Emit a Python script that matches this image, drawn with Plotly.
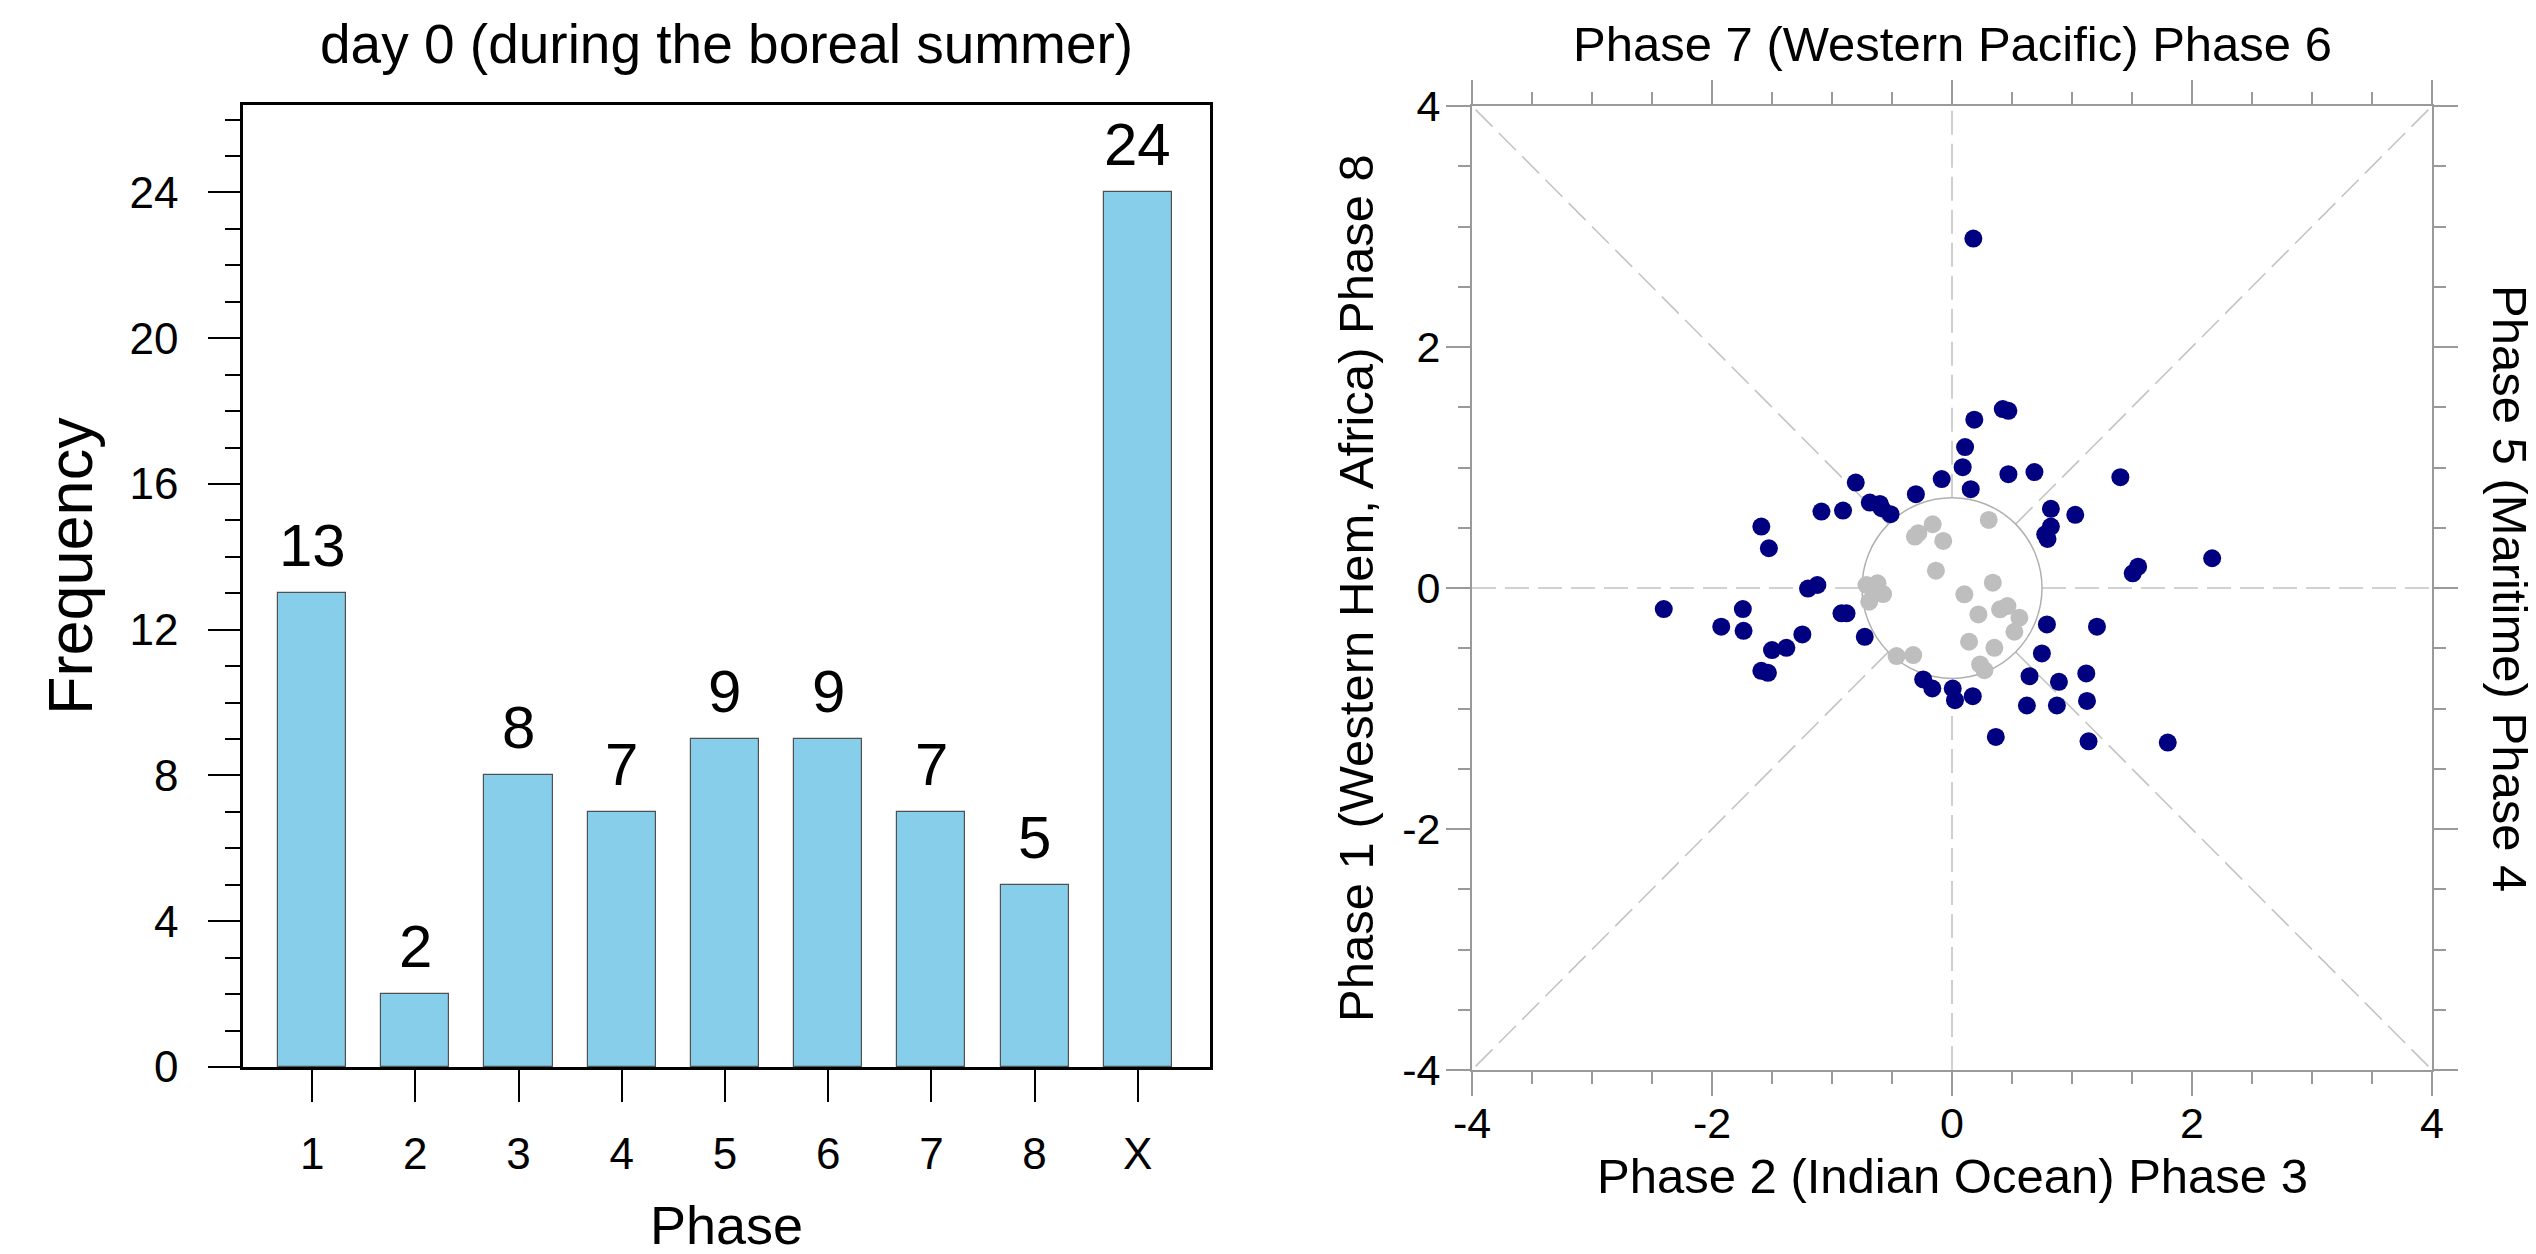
import math
import plotly.graph_objects as go

# ---- data -------------------------------------------------------------
phase_labels = ["1", "2", "3", "4", "5", "6", "7", "8", "X"]
phase_counts = [13, 2, 8, 7, 9, 9, 7, 5, 24]
freq_ticks = [0, 4, 8, 12, 16, 20, 24]

# RMM1 / RMM2 of days with a strong MJO (amplitude outside the circle)
strong_rmm1 = [0.178, 0.423, 0.470, 0.186, 0.109, 0.089, -0.086, 0.156, 0.470, 0.687,
               1.403, 0.824, 0.824, 0.777, 0.796, 1.027, 1.551, 1.506, -0.301, -0.802,
               -0.685, -0.601, -0.587, -0.512, -1.088, -0.908, -1.589, -1.526, -1.200, -1.122,
               -2.402, -1.743, -1.923, -1.737, -1.247, -1.500, -1.380, -1.589, -1.534, -0.921,
               -0.879, -0.727, -0.240, -0.164, 2.168, 0.791, 1.208, 0.749, 0.646, 0.891,
               1.119, 0.624, 0.874, 1.125, 0.365, 1.138, 1.798, 0.006, 0.025, 0.173]
strong_rmm2 = [2.900, 1.485, 1.470, 1.397, 1.170, 1.003, 0.904, 0.820, 0.945, 0.962,
               0.920, 0.657, 0.510, 0.446, 0.407, 0.607, 0.177, 0.122, 0.779, 0.875,
               0.709, 0.698, 0.662, 0.613, 0.634, 0.643, 0.510, 0.330, -0.005, 0.025,
               -0.175, -0.175, -0.321, -0.355, -0.385, -0.515, -0.496, -0.687, -0.704, -0.210,
               -0.210, -0.405, -0.759, -0.834, 0.247, -0.302, -0.321, -0.543, -0.732, -0.779,
               -0.709, -0.975, -0.975, -0.937, -1.236, -1.272, -1.283, -0.834, -0.931, -0.898]

# RMM1 / RMM2 of weak-MJO days
weak_rmm1 = [0.306, -0.161, -0.281, -0.309, -0.073, -0.134, -0.713, -0.621, -0.574, -0.690,
             -0.650, -0.462, -0.323, 0.340, 0.103, 0.220, 0.401, 0.462, 0.562, 0.520,
             0.142, 0.353, 0.234, 0.270]
weak_rmm2 = [0.565, 0.529, 0.455, 0.427, 0.391, 0.144, 0.025, 0.039, -0.050, -0.114,
             -0.020, -0.565, -0.557, 0.044, -0.052, -0.219, -0.177, -0.150, -0.247, -0.363,
             -0.446, -0.496, -0.634, -0.682]

rmm_ticks = [-4, -2, 0, 2, 4]
rmm_tick_text = ["-4", "-2", "0", "2", "4"]

# ---- page geometry ----------------------------------------------------
W, H = 2536, 1254
FONT = "Liberation Sans, Arial, Helvetica, sans-serif"
LIM = 4.0
WEAK_R = 0.75


def fx(px):
    return px / W


def fy(px):
    return 1 - px / H


fig = go.Figure()

# ---- left panel: phase frequency histogram ---------------------------
bar_pos = list(range(1, len(phase_labels) + 1))
fig.add_trace(go.Bar(
    x=bar_pos, y=phase_counts, width=0.66,
    marker=dict(color="#87CEEB", line=dict(color="#505050", width=1.2)),
    xaxis="x", yaxis="y", showlegend=False, hoverinfo="skip",
))

# ---- right panel: RMM phase space ------------------------------------
fig.add_trace(go.Scatter(
    x=weak_rmm1, y=weak_rmm2, mode="markers",
    marker=dict(color="#BEBEBE", size=18),
    xaxis="x2", yaxis="y2", showlegend=False, hoverinfo="skip",
))
fig.add_trace(go.Scatter(
    x=strong_rmm1, y=strong_rmm2, mode="markers",
    marker=dict(color="#000080", size=18),
    xaxis="x2", yaxis="y2", showlegend=False, hoverinfo="skip",
))

shapes = []
dash_line = dict(color="#c4c4c4", width=1.6, dash="24px,9px")
seg = [((-LIM, 0), (-WEAK_R, 0)), ((WEAK_R, 0), (LIM, 0)),
       ((0, -LIM), (0, -WEAK_R)), ((0, WEAK_R), (0, LIM))]
d = WEAK_R / math.sqrt(2)
for sx in (-1, 1):
    for sy in (-1, 1):
        seg.append(((sx * d, sy * d), (sx * LIM, sy * LIM)))
for (x0, y0), (x1, y1) in seg:
    shapes.append(dict(type="line", xref="x2", yref="y2", x0=x0, y0=y0, x1=x1, y1=y1,
                       line=dash_line, layer="below"))
shapes.append(dict(type="circle", xref="x2", yref="y2",
                   x0=-WEAK_R, y0=-WEAK_R, x1=WEAK_R, y1=WEAK_R,
                   line=dict(color="#b0b0b0", width=1.5), layer="below"))

# ---- text -------------------------------------------------------------
annotations = []
for p, c in zip(bar_pos, phase_counts):
    annotations.append(dict(x=p, y=c, xref="x", yref="y", text=str(c), showarrow=False,
                            yanchor="bottom", yshift=12,
                            font=dict(family=FONT, size=60, color="black")))


def label(text, x, y, size, angle=0):
    annotations.append(dict(x=fx(x), y=fy(y), xref="paper", yref="paper", text=text,
                            showarrow=False, textangle=angle, xanchor="center",
                            yanchor="middle", font=dict(family=FONT, size=size, color="black")))


label("day 0 (during the boreal summer)", 726, 44, 55)
label("Frequency", 70, 566, 63, -90)
label("Phase", 726, 1225, 54)
label("Phase 7 (Western Pacific) Phase 6", 1952, 44, 49)
label("Phase 2 (Indian Ocean) Phase 3", 1952, 1176, 49)
label("Phase 1 (Western Hem, Africa) Phase 8", 1356, 588, 49, -90)
label("Phase 5 (Maritime) Phase 4", 2510, 588, 49, 90)

tick_font = dict(family=FONT, size=44, color="black")
rmm_tick_font = dict(family=FONT, size=43, color="black")
grey = "#9a9a9a"

fig.update_layout(
    width=W, height=H, autosize=False,
    margin=dict(l=0, r=0, t=0, b=0, autoexpand=False),
    paper_bgcolor="white", plot_bgcolor="white",
    bargap=0,
    shapes=shapes, annotations=annotations,
    xaxis=dict(
        domain=[fx(243), fx(1210)], range=[0.33, 9.7], anchor="y", automargin=False,
        tickvals=bar_pos, ticktext=phase_labels, tickfont=tick_font,
        ticks="outside", ticklen=32, tickwidth=2, tickcolor="black", ticklabelstandoff=14,
        showline=True, linecolor="black", linewidth=2.5, mirror=True,
        showgrid=False, zeroline=False, fixedrange=True,
    ),
    yaxis=dict(
        domain=[fy(1067), fy(105)], range=[0, 26.4], anchor="x", automargin=False,
        tickvals=freq_ticks, tickfont=tick_font,
        ticks="outside", ticklen=32, tickwidth=2, tickcolor="black", ticklabelstandoff=21,
        minor=dict(dtick=1, tick0=0, ticks="outside", ticklen=15, tickwidth=2, tickcolor="black",
                   showgrid=False),
        showline=True, linecolor="black", linewidth=2.5, mirror=True,
        showgrid=False, zeroline=False, fixedrange=True,
    ),
    xaxis2=dict(
        domain=[fx(1472), fx(2432)], range=[-LIM, LIM], anchor="y2", automargin=False,
        tickvals=rmm_ticks, ticktext=rmm_tick_text, tickfont=rmm_tick_font,
        ticks="outside", ticklen=24, tickwidth=1.5, tickcolor=grey, ticklabelstandoff=-10,
        minor=dict(dtick=0.5, tick0=0, ticks="outside", ticklen=12, tickwidth=1.5,
                   tickcolor=grey, showgrid=False),
        showline=True, linecolor=grey, linewidth=2, mirror="ticks",
        showgrid=False, zeroline=False, fixedrange=True,
    ),
    yaxis2=dict(
        domain=[fy(1070), fy(106)], range=[-LIM, LIM], anchor="x2", automargin=False,
        tickvals=rmm_ticks, ticktext=rmm_tick_text, tickfont=rmm_tick_font,
        ticks="outside", ticklen=24, tickwidth=1.5, tickcolor=grey, ticklabelstandoff=-3,
        minor=dict(dtick=0.5, tick0=0, ticks="outside", ticklen=12, tickwidth=1.5,
                   tickcolor=grey, showgrid=False),
        showline=True, linecolor=grey, linewidth=2, mirror="ticks",
        showgrid=False, zeroline=False, fixedrange=True,
    ),
)

fig.write_html("out.html", config={"displayModeBar": False})
